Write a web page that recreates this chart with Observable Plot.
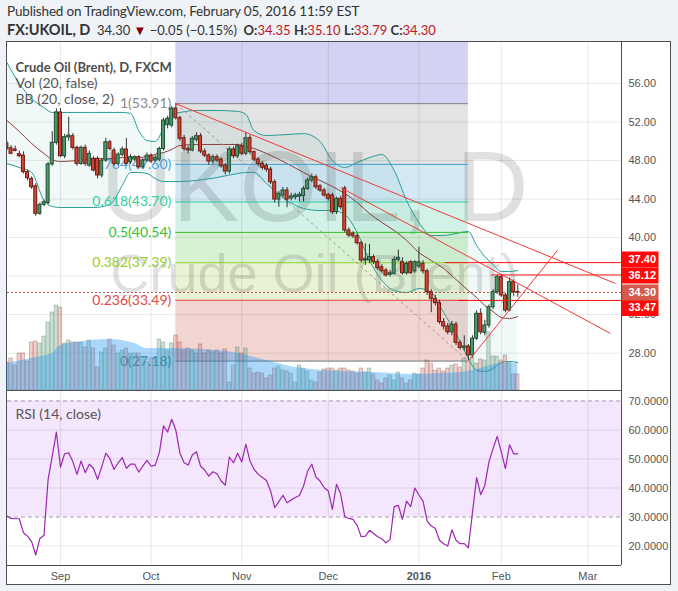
<!DOCTYPE html>
<html>
<head>
<meta charset="utf-8">
<script src="https://cdn.jsdelivr.net/npm/d3@7"></script>
<script src="https://cdn.jsdelivr.net/npm/@observablehq/plot@0.6"></script>
<style>
html,body{margin:0;padding:0}
body{width:678px;height:591px;background:#eff2f7;position:relative;overflow:hidden;font-family:Lato,"Noto Sans",sans-serif;}
#h1{position:absolute;left:7px;top:3px;font-size:13.5px;letter-spacing:-0.15px;color:#333;white-space:nowrap;}
#h2{position:absolute;left:7px;top:21px;font-size:13px;color:#333;white-space:nowrap;}
#h2 b{font-weight:700}
#h2 .big{font-size:14.5px}
#h2 .r{color:#c0161c}
#h2 .tri{color:#8b0000;font-size:13px}
#frame{position:absolute;left:6px;top:41px;width:663px;height:542px;border:1px solid #4d4d4d;background:#fff}
#chart{position:absolute;left:0;top:0;width:678px;height:591px}
.sep{position:absolute;background:#4d4d4d}
</style>
</head>
<body>
<div id="h1">Published on TradingView.com, February 05, 2016 11:59 EST</div>
<div id="h2"></div>
<div id="frame"></div>
<div id="chart"></div>
<div class="sep" style="left:621px;top:42px;width:1px;height:523px"></div>
<div class="sep" style="left:7px;top:390px;width:614px;height:1px"></div>
<div class="sep" style="left:7px;top:565px;width:614px;height:1px"></div>
<script>
// ---------- data (daily bars, index 0 = 1 Sep 2015) ----------
const firstIdx = -13;
const cOpen = [49.74,49.28,49.15,48.66,48.52,46.80,46.10,45.33,42.47,43.40,43.60,47.60,49.84,
53.00,48.45,50.40,50.53,49.32,47.66,49.32,47.48,48.18,48.18,
46.45,48.00,49.90,49.04,47.66,48.60,49.15,47.83,48.10,48.35,
47.30,48.00,48.52,48.00,48.10,49.20,51.71,51.64,53.40,52.40,
50.32,49.22,49.04,50.15,50.53,48.94,48.52,47.90,48.35,48.10,
47.48,46.86,49.15,48.45,49.49,48.70,50.32,48.87,48.10,47.66,
47.41,47.07,45.75,43.95,44.37,44.89,44.06,44.17,44.24,44.30,
45.06,45.93,46.27,45.33,44.89,44.44,44.37,42.64,44.03,45.10,
40.74,40.39,40.14,39.42,37.62,37.62,37.97,37.45,36.92,36.58,
36.13,36.24,37.69,37.44,36.30,37.44,36.50,37.00,37.28,36.50,
34.33,33.64,33.19,31.22,30.77,30.17,30.96,29.07,28.55,28.69,
27.76,29.50,32.08,30.10,30.87,32.77,34.33,35.89,33.99,32.43,
35.37,34.35];
const cHigh = [50.0,49.56,49.5,49.0,48.9,47.0,46.3,45.6,43.6,43.9,47.8,51.0,53.37,
53.4,50.7,52.5,50.8,49.5,49.5,49.6,49.0,48.4,48.4,
48.2,50.3,50.1,49.3,48.8,49.4,50.3,48.6,48.5,48.5,
48.2,48.8,48.7,48.5,49.4,52.4,52.6,53.6,53.91,52.6,
50.6,49.5,50.5,50.9,50.8,49.2,48.7,48.6,48.6,48.3,
47.7,49.4,49.4,49.7,49.8,50.9,50.6,49.0,48.3,47.9,
47.7,47.3,46.0,44.8,45.2,45.2,44.6,44.6,44.7,45.3,
46.2,46.6,46.5,45.5,45.1,44.6,44.6,44.2,44.3,45.33,
41.0,40.6,40.4,39.6,39.35,39.3,38.2,37.7,37.2,36.8,
36.6,38.0,38.7,37.9,37.5,37.6,37.6,39.0,37.6,36.7,
34.6,34.0,33.5,31.6,31.1,31.3,31.2,29.3,29.8,28.9,
29.8,32.4,32.6,31.4,33.0,34.6,36.12,36.12,34.2,35.8,35.6,35.10];
const cLow = [49.0,48.6,48.9,48.3,46.6,45.9,45.0,42.2,42.3,43.2,43.4,47.4,49.6,
48.3,48.2,50.0,49.1,47.4,47.5,47.4,47.3,46.8,46.1,
46.2,47.8,49.0,47.4,47.5,48.4,47.5,47.6,47.9,47.1,
47.1,47.8,47.7,47.8,47.9,49.0,51.3,51.4,52.2,50.0,
48.9,48.7,48.9,49.9,48.7,48.3,47.5,47.6,47.8,47.2,
46.5,46.6,48.2,48.2,48.5,48.5,48.6,47.9,47.4,47.0,
46.8,45.5,43.6,43.15,44.1,43.1,43.8,43.9,43.7,43.7,
44.9,45.7,45.0,44.7,44.2,43.8,42.4,42.4,42.9,40.5,
40.0,39.9,39.2,37.4,37.1,37.3,37.2,36.6,36.3,35.9,
35.9,36.1,37.5,36.1,36.1,36.2,36.3,36.8,36.2,34.0,
32.2,32.9,31.0,30.4,29.9,29.8,28.8,28.3,28.2,27.18,
27.5,29.3,29.9,29.8,30.6,32.5,34.1,33.8,32.2,32.3,33.9,33.79];
const cClose = [49.22,48.70,49.00,48.45,46.80,46.17,45.23,42.47,43.40,43.67,47.60,49.84,53.00,
48.45,50.43,50.60,49.32,47.66,49.32,47.66,48.70,46.97,46.45,
48.00,49.90,49.20,47.66,48.60,49.15,47.66,48.35,48.35,47.30,
48.00,48.50,47.90,48.30,49.20,52.16,52.33,53.40,52.40,50.26,
49.22,49.04,50.26,50.53,48.94,48.52,47.90,48.35,48.00,47.41,
46.86,49.15,48.45,49.49,48.70,50.32,48.87,48.10,47.66,47.25,
47.07,45.75,43.95,44.54,44.89,43.95,44.27,44.37,44.44,45.06,
45.93,46.27,45.23,44.89,44.37,44.03,42.64,44.03,43.15,40.74,
40.22,40.14,39.42,37.62,37.76,37.97,37.45,36.82,36.51,36.06,
36.30,37.69,37.90,36.30,37.28,36.30,37.44,37.44,36.50,34.33,
33.64,33.19,31.22,30.77,30.17,30.96,29.07,28.55,28.69,27.76,
29.50,32.08,30.17,30.87,32.77,34.33,35.89,33.99,32.43,35.37,34.33,34.30];
const volume = [28,32,25,37,37,29,48,49,47,54,68,78,85,
83,47,50,48,48,48,43,50,42,23,38,42,51,45,37,40,42,37,37,37,33,28,32,33,51,48,40,47,55,48,40,42,40,37,46,37,40,38,40,37,41,8,25,43,
37,42,22,17,18,17,12,15,22,24,20,19,17,8,25,22,19,10,8,18,21,22,22,20,22,22,20,19,17,22,18,22,16,10,7,12,15,10,18,12,7,10,17,16,22,30,27,20,22,19,22,25,26,23,32,28,33,27,31,30,58,34,34,30,35,28,16,16];
const volMAIdx = [-13,-6,-2,0,4,12,18,21,27,34,42,50,57,64,76,86,92,97,102,107,111];
const volMA    = [27,33,37,45,48,51,47,42,42,41,38,30,23,20,18,16,17,18,22,27,27];
const bbIdx    = [-13,-10,-7,-4,-2,0,4,8,12,15,17,19,21,23,25,27,29,33,38,43,45,47,50,55,59,63,66,69,72,75,78,81,84,87,90,93,96,99,101,103,105,107,109,111];
const bbUpper  = [58.18,56.0,54.44,53.5,52.99,52.99,53.0,53.0,53.0,53.0,52.9,51.1,50.08,49.98,51.33,52.78,52.99,53.2,53.2,53.1,52.8,51.1,50.6,50.7,50.8,49.98,48.0,47.28,47.8,48.3,48.63,46.97,43.85,41.57,40.22,40.22,40.42,40.63,39.18,38.03,37.2,36.48,36.48,36.58];
const bbMiddle = [52.16,51.02,49.77,48.73,48.1,47.9,48.0,48.2,48.2,48.3,48.32,48.32,48.42,48.63,48.83,49.15,49.56,49.67,49.67,49.67,49.46,49.25,48.73,47.69,46.76,45.93,45.3,44.58,43.64,42.5,41.57,40.74,39.7,38.45,37.62,36.79,35.65,34.5,33.78,32.95,32.32,31.7,31.6,31.8];
const bbLower  = [47.69,47.28,46.76,43.85,43.23,43.12,43.12,43.12,43.44,45.41,46.76,46.76,46.65,46.13,45.82,45.82,45.82,45.93,46.24,46.65,46.76,46.76,45.62,43.85,43.02,42.81,42.81,42.4,40.53,37.62,35.54,34.5,34.3,34.71,34.3,32.22,30.04,27.44,26.2,26.1,26.4,27.03,27.13,27.03];
const rsi = [30.3,29.5,29.4,29.4,24.6,23.4,21.5,16.9,22.6,23.7,43.0,51.0,59.3,
47.2,51.8,52.1,49.1,44.7,49.3,45.3,48.2,46.8,43.0,
47.2,52.0,50.1,46.4,48.7,50.5,46.8,48.2,48.2,45.5,
47.6,49.5,47.5,47.9,52.2,61.4,59.3,63.7,59.9,52.0,
48.7,47.9,51.4,52.5,47.6,46.2,44.1,45.6,44.9,42.4,
41.0,50.7,48.7,52.0,49.0,55.1,49.3,46.4,44.7,43.6,
42.6,39.0,33.2,35.3,37.5,34.9,35.9,36.7,37.4,40.7,
45.9,48.2,43.8,42.4,40.1,39.0,32.6,41.3,38.0,30.1,
29.5,29.2,27.1,23.2,23.4,25.4,24.3,23.2,22.5,21.1,
22.3,33.6,34.0,29.2,35.5,33.6,40.0,37.6,35.5,28.6,
26.9,26.0,22.0,20.8,20.0,25.6,22.0,20.8,20.8,19.4,
31.5,43.6,37.7,40.9,49.0,53.6,57.8,52.4,46.7,54.9,51.8,51.8];
const monthIdx = [0,22,44,65,87,107,128];
const monthLabels = ["Sep","Oct","Nov","Dec","2016","Feb","Mar"];
const priceTicks = [28,32,36,40,44,48,52,56];
const rsiTicks = [20,30,40,50,60,70];
const fibRatios = ["1","0.764","0.618","0.5","0.382","0.236","0"];
const fibLevels = [53.91,47.60,43.70,40.54,37.39,33.49,27.18];
const fibTopLevel = 70.43;
const fibFrom = 28, fibTo = 99;
const trendLines = [
  {x1:28, y1:53.91, x2:134.7, y2:35.23},
  {x1:68, y1:45.2,  x2:133.5, y2:30.04},
  {x1:99, y1:27.18, x2:120.6, y2:38.66}
];
const fibDiagonal = [{x1:28, y1:53.91, x2:99, y2:27.18}];
const hLines = [{v:37.40, from:93.4},{v:36.12, from:104.6},{v:33.47, from:96.6}];
const priceBoxes = [
  {v:37.40, fill:"#ff0a0a", dy:-3},
  {v:36.12, fill:"#ff0a0a", dy:0.5},
  {v:33.47, fill:"#ff0a0a", dy:7.5},
  {v:34.30, fill:"#d65a4b", dy:0}
];

// ---------- styles ----------
const fibFill = ["#d2d2f3","#e3e3e3","#d4e8f4","#d3f2e7","#d9f1d3","#e8f2d5","#f2d4d1"];
const fibLine = ["#7f7f7f","#3d9fdc","#26c79a","#2fbf2f","#8bd12b","#e8403a","#6a6a6a"];
const fibText = ["#8a8a8a","#4aa3df","#33cf9e","#33c233","#98cc2a","#e24842","#5a8585"];
const FONT = "Lato, 'Noto Sans', sans-serif";
const AXFONT = "'Liberation Sans', Arial, sans-serif";

// ---------- derived tables ----------
const candles = cOpen.map((o,k)=>({i:firstIdx+k, o, h:cHigh[k], l:cLow[k], c:cClose[k]}));
const upC = candles.filter(d=>d.c>=d.o), dnC = candles.filter(d=>d.c<d.o);
const vol = volume.map((v,k)=>({i:firstIdx+k, v, up: cClose[k]>=cOpen[k]}));
const volMAData = volMAIdx.map((i,k)=>({i, v:volMA[k]}));
const bb = bbIdx.map((i,k)=>({i, up:bbUpper[k], mid:bbMiddle[k], lo:bbLower[k]}));
const rsiData = rsi.map((v,k)=>({i:firstIdx+k, v}));
const months = monthIdx.map((i,k)=>({i, label:monthLabels[k], bold: monthLabels[k]==="2016"}));
const fibBands = [fibTopLevel, ...fibLevels].slice(0,-1).map((hi,k)=>({hi, lo:fibLevels[k], fill:fibFill[k]}));

// ---------- layout ----------
const W = 678, H = 591, L = 7, R = 621, T = 42, MB = 390, RB = 565;
const xDomain = [-12.86, 136.17];
const priceDomain = [24.12, 60.26];
const rsiDomain = [13.28, 73.62];

function layer(opts) {
  const svg = Plot.plot(Object.assign({
    width: W, height: H,
    marginLeft: L, marginRight: W - R,
    x: {domain: xDomain, axis: null},
    style: {background: "transparent", overflow: "visible"}
  }, opts));
  svg.style.position = "absolute"; svg.style.left = "0px"; svg.style.top = "0px";
  svg.style.maxWidth = "none";
  document.getElementById("chart").appendChild(svg);
}
const curve = "monotone-x";

// A: price pane background (fib zones, grid, watermark, bands)
layer({
  marginTop: T, marginBottom: H - MB,
  y: {domain: priceDomain, axis: null},
  marks: [
    ...fibBands.map(b => Plot.rect([b], {x1: fibFrom, x2: fibTo, y1: b.lo, y2: Math.min(b.hi, priceDomain[1]), fill: b.fill})),
    Plot.ruleY(priceTicks, {stroke: "#000", strokeOpacity: 0.09}),
    Plot.ruleX(monthIdx, {stroke: "#000", strokeOpacity: 0.09}),
    Plot.text(["UKOIL, D"], {text: d=>d, frameAnchor: "middle", dy: -28, fontSize: 100, fontFamily: AXFONT, fill: "#000", fillOpacity: 0.12}),
    Plot.text(["Crude Oil (Brent)"], {text: d=>d, frameAnchor: "middle", dy: 58.5, fontSize: 54, fontFamily: AXFONT, fill: "#000", fillOpacity: 0.12}),
    Plot.areaY(bb, {x: "i", y1: "lo", y2: "up", fill: "#26a69a", fillOpacity: 0.07, curve}),
    Plot.line(bb, {x: "i", y: "up", stroke: "#2a9b97", strokeWidth: 1, curve}),
    Plot.line(bb, {x: "i", y: "lo", stroke: "#2a9b97", strokeWidth: 1, curve}),
    Plot.line(bb, {x: "i", y: "mid", stroke: "#8e3d3d", strokeWidth: 1, curve}),
    ...fibLevels.map((v,k) => Plot.ruleY([v], {x1: fibFrom, x2: fibTo, stroke: fibLine[k]})),
    ...fibLevels.map((v,k) => Plot.text([v], {x: fibFrom, y: d=>d, text: d => `${fibRatios[k]}(${d.toFixed(2)})`, dx: -4.5, textAnchor: "end", fill: fibText[k], fontSize: 14, fontFamily: FONT}))
  ]
});

// B: volume overlay
layer({
  marginTop: MB - 100, marginBottom: H - MB,
  y: {domain: [0, 100], axis: null},
  marks: [
    Plot.rect(vol.filter(d=>d.up), {x1: d=>d.i-0.42, x2: d=>d.i+0.42, y1: 0, y2: "v", fill: "#6ba583", fillOpacity: 0.35, stroke: "#225437", strokeOpacity: 0.3, strokeWidth: 0.8, clip: true}),
    Plot.rect(vol.filter(d=>!d.up), {x1: d=>d.i-0.42, x2: d=>d.i+0.42, y1: 0, y2: "v", fill: "#d75442", fillOpacity: 0.28, stroke: "#5b1a13", strokeOpacity: 0.3, strokeWidth: 0.8, clip: true}),
    Plot.areaY(volMAData, {x: "i", y: "v", fill: "#2196f3", fillOpacity: 0.38, curve})
  ]
});

// C: candles, drawings, price axis, legend
layer({
  marginTop: T, marginBottom: H - MB,
  y: {domain: priceDomain, axis: null},
  marks: [
    Plot.ruleY([cClose[cClose.length-1]], {stroke: "#c0504d", strokeDasharray: "2,2"}),
    Plot.link(fibDiagonal, {x1: "x1", y1: "y1", x2: "x2", y2: "y2", stroke: "#9a9a9a", strokeDasharray: "3,3"}),
    Plot.ruleX(candles, {x: "i", y1: "l", y2: "h", stroke: "#333", strokeWidth: 1, clip: true}),
    Plot.rect(upC, {x1: d=>d.i-0.36, x2: d=>d.i+0.36, y1: "o", y2: "c", fill: "#4f9a6c", stroke: "#1f4f33", strokeWidth: 1, clip: true}),
    Plot.rect(dnC, {x1: d=>d.i-0.36, x2: d=>d.i+0.36, y1: "o", y2: "c", fill: "#d64432", stroke: "#6d1b12", strokeWidth: 1, clip: true}),
    Plot.link(trendLines, {x1: "x1", y1: "y1", x2: "x2", y2: "y2", stroke: "#f23a3a", strokeWidth: 1}),
    Plot.ruleY(hLines, {y: "v", x1: "from", x2: xDomain[1], stroke: "#ff1010", strokeWidth: 1}),
    Plot.text(priceTicks, {y: d=>d, text: d=>d.toFixed(2), frameAnchor: "right", dx: 7, textAnchor: "start", fontSize: 11, fontFamily: AXFONT, fill: "#555"}),
    Plot.text(["Crude Oil (Brent), D, FXCM"], {text: d=>d, frameAnchor: "top-left", dx: 8, dy: 20, textAnchor: "start", fontWeight: "bold", fontSize: 13, fontFamily: FONT, fill: "#4d4d4d"}),
    Plot.text(["Vol (20, false)"], {text: d=>d, frameAnchor: "top-left", dx: 8, dy: 35.5, textAnchor: "start", fontSize: 14, fontFamily: FONT, fill: "#555"}),
    Plot.text(["BB (20, close, 2)"], {text: d=>d, frameAnchor: "top-left", dx: 8, dy: 51.5, textAnchor: "start", fontSize: 14, fontFamily: FONT, fill: "#555"})
  ]
});

// D: price labels on the axis
layer({
  marginLeft: R, marginRight: 0, marginTop: T, marginBottom: H - MB,
  x: {domain: [0, W - R], axis: null},
  y: {domain: priceDomain, axis: null},
  marks: priceBoxes.flatMap(b => [
    Plot.ruleY([b.v], {x1: 0.5, x2: 37.5, stroke: b.fill, strokeWidth: 16, dy: b.dy}),
    Plot.text([b.v], {x: 7, y: d=>d, text: d=>d.toFixed(2), dy: b.dy, textAnchor: "start", fill: "#fff", fontWeight: "bold", fontSize: 11, fontFamily: AXFONT})
  ])
});

// E: RSI pane + time axis
layer({
  marginTop: MB, marginBottom: H - RB,
  y: {domain: rsiDomain, axis: null},
  marks: [
    Plot.rect([{}], {x1: xDomain[0], x2: xDomain[1], y1: 30, y2: 70, fill: "#f4e6fd"}),
    Plot.ruleY([20,40,50,60], {stroke: "#000", strokeOpacity: 0.09}),
    Plot.ruleX(monthIdx, {stroke: "#000", strokeOpacity: 0.09}),
    Plot.ruleY([30,70], {stroke: "#a898ad", strokeDasharray: "4,3"}),
    Plot.line(rsiData, {x: "i", y: "v", stroke: "#9c27b0", strokeWidth: 1.2, clip: true}),
    Plot.text(rsiTicks, {y: d=>d, text: d=>d.toFixed(4), frameAnchor: "right", dx: 7, textAnchor: "start", fontSize: 11, fontFamily: AXFONT, fill: "#555"}),
    Plot.text(["RSI (14, close)"], {text: d=>d, frameAnchor: "top-left", dx: 8, dy: 18.5, textAnchor: "start", fontSize: 14, fontFamily: FONT, fill: "#555"}),
    Plot.text(months.filter(d=>!d.bold), {x: "i", text: "label", frameAnchor: "bottom", lineAnchor: "top", dy: 7, fontSize: 11, fontFamily: AXFONT, fill: "#555"}),
    Plot.text(months.filter(d=>d.bold), {x: "i", text: "label", frameAnchor: "bottom", lineAnchor: "top", dy: 7, fontSize: 11, fontWeight: "bold", fontFamily: AXFONT, fill: "#555"})
  ]
});

// header line 2 from the last bar
const k = cClose.length - 1;
const f2 = v => v.toFixed(2).replace("-", "\u2212");
const chg = cClose[k] - cOpen[k];
document.getElementById("h2").innerHTML =
  `<b class="big">FX:UKOIL, D</b>&nbsp; ${f2(cClose[k])} <span class="tri">\u25BC</span> ${f2(chg)} (${f2(chg / cOpen[k] * 100)}%)&nbsp; ` +
  `<b>O:</b><span class="r">${f2(cOpen[k])}</span> <b>H:</b><span class="r">${f2(cHigh[k])}</span> ` +
  `<b>L:</b><span class="r">${f2(cLow[k])}</span> <b>C:</b><span class="r">${f2(cClose[k])}</span>`;
</script>
</body>
</html>
